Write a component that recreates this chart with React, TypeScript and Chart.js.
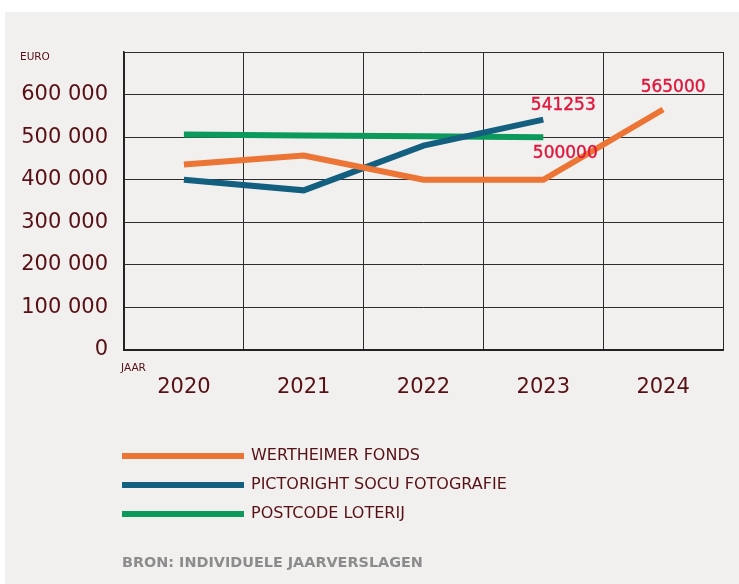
import React, { useEffect, useRef } from "react";
import { Chart, registerables } from "chart.js";

Chart.register(...registerables);

const categories = ["2020", "2021", "2022", "2023", "2024"];
const wertheimer = [436000, 457000, 400000, 400000, 565000];
const pictoright = [400000, 375000, 480000, 541253, null];
const postcode = [506000, 504000, 502000, 500000, null];
const seriesNames = ["WERTHEIMER FONDS", "PICTORIGHT SOCU FOTOGRAFIE", "POSTCODE LOTERIJ"];
const seriesColors = ["#ec7434", "#135f80", "#0b9a5b"];
const yTicks = [0, 100000, 200000, 300000, 400000, 500000, 600000, 700000];
const sourceText = "BRON: INDIVIDUELE JAARVERSLAGEN";
const yUnit = "EURO";
const xUnit = "JAAR";

const MAROON = "#571014";
const FONT = "'DejaVu Sans', sans-serif";

// label offsets relative to the last point of each series
const labelOffsets = [
  { dx: 10, dy: -22 },
  { dx: 20, dy: -14 },
  { dx: 22, dy: 16 },
];

const fmt = (v: number) => (v === 0 ? "0" : `${Math.round(v / 1000)} 000`);

const decorPlugin = {
  id: "decor",
  beforeDraw(chart: any) {
    const { ctx, width, height } = chart;
    ctx.save();
    ctx.fillStyle = "#ffffff";
    ctx.fillRect(0, 0, width, height);
    ctx.fillStyle = "#f1f0ef";
    ctx.fillRect(5, 12, width - 5, height - 12);
    ctx.restore();
  },
  afterDraw(chart: any) {
    const { ctx } = chart;
    ctx.save();
    // unit labels
    ctx.fillStyle = MAROON;
    ctx.font = `10.5px ${FONT}`;
    ctx.textBaseline = "middle";
    ctx.textAlign = "left";
    ctx.fillText(yUnit, 20, 57);
    ctx.fillText(xUnit, 121, 368);

    // data labels on last point
    chart.data.datasets.forEach((ds: any, i: number) => {
      const meta = chart.getDatasetMeta(i);
      let last = -1;
      ds.data.forEach((v: any, j: number) => {
        if (v !== null && v !== undefined) last = j;
      });
      if (last < 0) return;
      const pt = meta.data[last];
      const off = labelOffsets[i];
      ctx.fillStyle = "#e0163c";
      ctx.strokeStyle = "#e0163c";
      ctx.lineWidth = 0.4;
      ctx.font = `17px ${FONT}`;
      ctx.textAlign = "center";
      ctx.textBaseline = "middle";
      ctx.fillText(String(ds.data[last]), pt.x + off.dx, pt.y + off.dy);
      ctx.strokeText(String(ds.data[last]), pt.x + off.dx, pt.y + off.dy);
    });

    // legend
    chart.data.datasets.forEach((ds: any, i: number) => {
      const y = 456 + 29 * i;
      ctx.strokeStyle = ds.borderColor;
      ctx.lineWidth = 6;
      ctx.lineCap = "butt";
      ctx.beginPath();
      ctx.moveTo(122, y);
      ctx.lineTo(244, y);
      ctx.stroke();
      ctx.fillStyle = MAROON;
      ctx.font = `16px ${FONT}`;
      ctx.textAlign = "left";
      ctx.textBaseline = "middle";
      ctx.fillText(ds.label, 251, y);
    });

    // source
    ctx.fillStyle = "#8c8c8c";
    ctx.font = `bold 14.4px ${FONT}`;
    ctx.textAlign = "left";
    ctx.textBaseline = "middle";
    ctx.fillText(sourceText, 122, 563);
    ctx.restore();
  },
};

export default function App() {
  const ref = useRef<HTMLCanvasElement>(null);
  useEffect(() => {
    if (!ref.current) return;
    const chart = new Chart(ref.current, {
      type: "line",
      data: {
        labels: categories,
        datasets: [wertheimer, pictoright, postcode].map((d, i) => ({
          label: seriesNames[i],
          data: d,
          borderColor: seriesColors[i],
          backgroundColor: seriesColors[i],
          borderWidth: 6,
          borderCapStyle: "butt",
          pointRadius: 0,
          tension: 0,
          spanGaps: false,
        })),
      },
      options: {
        animation: false,
        responsive: true,
        maintainAspectRatio: false,
        layout: { padding: { top: 52, right: 16, left: 0, bottom: 184 } },
        plugins: { legend: { display: false }, tooltip: { enabled: false } },
        scales: {
          x: {
            offset: true,
            grid: { offset: true, color: "#2a2a2a", lineWidth: 1, drawTicks: false },
            border: { color: "#222222", width: 2 },
            ticks: {
              color: MAROON,
              font: { family: FONT, size: 21 },
              padding: 25,
              maxRotation: 0,
            },
            afterFit: (s: any) => {
              s.height = 50;
            },
          },
          y: {
            min: 0,
            max: 700000,
            afterBuildTicks: (s: any) => {
              s.ticks = yTicks.map((v) => ({ value: v }));
            },
            grid: { color: "#2e2e2e", lineWidth: 1, drawTicks: false },
            border: { color: "#222222", width: 1.5 },
            ticks: {
              color: MAROON,
              font: { family: FONT, size: 21 },
              padding: 16,
              callback: (v: any) => (v === 700000 ? "" : fmt(Number(v))),
            },
            afterFit: (s: any) => {
              s.width = 124;
            },
          },
        },
      },
      plugins: [decorPlugin],
    });
    return () => chart.destroy();
  }, []);
  return (
    <div style={{ position: "absolute", left: 0, top: 0, width: 739, height: 584 }}>
      <canvas ref={ref} />
    </div>
  );
}
